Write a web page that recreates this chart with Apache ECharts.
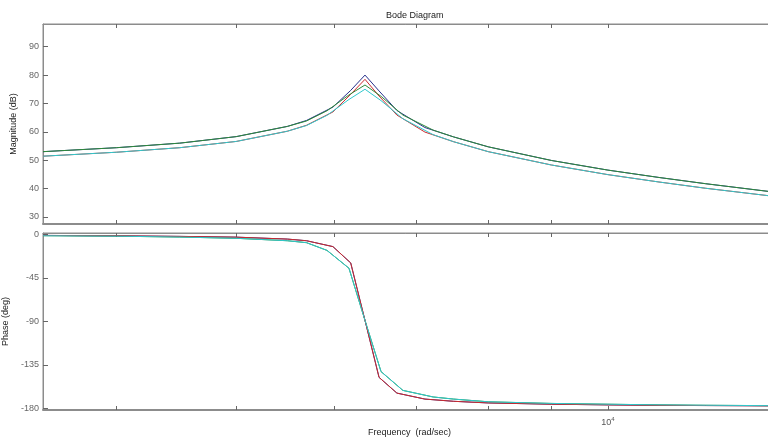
<!DOCTYPE html>
<html>
<head>
<meta charset="utf-8">
<script src="https://cdn.jsdelivr.net/npm/echarts@6/dist/echarts.min.js"></script>
<style>
  * { margin: 0; padding: 0; }
  html, body { background: #fff; }
</style>
</head>
<body>
<!-- container with a fixed size for echarts -->
<div id="main" style="width:768px;height:437px;"></div>
<script>
// frequency grids (rad/sec)
var freqA = [3487, 4000, 4500, 5000, 5500, 5700, 5988, 6190, 6357, 6526, 6747, 7109, 7500, 8000, 9000, 10000, 11000, 12000, 13600];
var freqB = [3487, 4000, 4500, 5000, 5500, 5700, 5922, 6170, 6357, 6550, 6823, 7218, 7500, 8000, 9000, 10000, 11000, 12000, 13600];

// magnitude (dB)
var magBlue  = [53.0, 54.4, 56.0, 58.3, 61.9, 64.0, 68.7, 74.6, 80.0, 74.4, 67.5, 61.5, 58.2, 54.7, 49.9, 46.5, 43.9, 41.7, 38.8];
var magRed   = [51.4, 52.8, 54.4, 56.6, 60.2, 62.3, 67.0, 73.2, 78.5, 72.6, 65.9, 59.9, 56.5, 53.0, 48.3, 44.9, 42.3, 40.1, 37.3];
var magGreen = [53.0, 54.4, 56.0, 58.3, 61.9, 63.8, 67.4, 73.0, 76.5, 72.5, 65.9, 60.6, 58.2, 54.7, 49.9, 46.5, 43.9, 41.7, 38.8];
var magCyan  = [51.4, 52.8, 54.4, 56.6, 60.2, 62.2, 65.8, 71.4, 75.0, 71.0, 64.6, 59.0, 56.5, 53.0, 48.3, 44.9, 42.3, 40.1, 37.3];

// phase (deg)
var phBlue  = [-1.0, -1.4, -2.0, -2.8, -4.8, -6.5, -12.6, -29.5, -89, -148, -164.3, -170.5, -172.8, -174.5, -175.8, -176.5, -177.0, -177.2, -177.5];
var phRed   = [-1.0, -1.4, -2.0, -2.8, -4.8, -6.5, -12.6, -29.5, -89, -148, -164.3, -170.5, -172.8, -174.5, -175.8, -176.5, -177.0, -177.2, -177.5];
var phGreen = [-1.3, -1.8, -2.7, -4.0, -6.5, -8.5, -16.5, -35.0, -89, -142, -161.5, -168.3, -170.5, -173.3, -175.0, -175.8, -176.5, -176.9, -177.3];
var phCyan  = [-1.3, -1.8, -2.7, -4.0, -6.5, -8.5, -16.5, -35.0, -89, -142, -161.5, -168.3, -170.5, -173.3, -175.0, -175.8, -176.5, -176.9, -177.3];

// tick positions
var freqTicks = [4000, 5000, 6000, 7000, 8000, 9000, 10000];
var freqLabels = [10000];
var magTicks = [30, 40, 50, 60, 70, 80, 90];
var phTicks = [0, -45, -90, -135, -180];

var colors = { blue: '#27308c', red: '#cc2a2e', green: '#2f8a3a', cyan: '#30c8cc' };

function pairs(f, v) {
    var out = [];
    for (var i = 0; i < f.length; i++) out.push([f[i], v[i]]);
    return out;
}

function line(name, gi, f, v, color) {
    return {
        name: name, type: 'line', xAxisIndex: gi * 2, yAxisIndex: gi,
        data: pairs(f, v), symbol: 'none', clip: true,
        lineStyle: { color: color, width: 1 }, silent: true
    };
}

function xAx(gi, pos, labels, lineW) {
    return {
        type: 'log', gridIndex: gi, position: pos, min: 3487, max: 13530,
        axisLine: { show: true, onZero: false, lineStyle: { color: '#8c8c8c', width: lineW } },
        axisTick: { show: true, inside: true, length: 4, customValues: freqTicks, lineStyle: { color: '#666' } },
        splitLine: { show: false }, minorTick: { show: false },
        axisLabel: labels ? {
            show: true, customValues: freqLabels, margin: 6,
            formatter: function () { return '{b|10}{s|4}'; },
            rich: {
                b: { fontSize: 9, color: '#555', fontFamily: 'Liberation Sans' },
                s: { fontSize: 6, color: '#555', fontFamily: 'Liberation Sans', padding: [0, 0, 7, 0] }
            }
        } : { show: false }
    };
}

var chart = echarts.init(document.getElementById('main'));
chart.setOption({
    backgroundColor: '#fff',
    animation: false,
    title: {
        text: 'Bode Diagram', left: 386, top: 11, padding: 0,
        textStyle: { fontSize: 9, fontWeight: 'normal', color: '#222', fontFamily: 'Liberation Sans' }
    },
    grid: [
        { left: 43, top: 24, right: -2, height: 200, show: true, borderColor: '#8c8c8c', borderWidth: 1, outerBoundsMode: 'none', containLabel: false },
        { left: 43, top: 233, right: -2, height: 177, show: true, borderColor: '#8c8c8c', borderWidth: 1, outerBoundsMode: 'none', containLabel: false }
    ],
    xAxis: [
        xAx(0, 'bottom', false, 2),
        xAx(0, 'top', false, 1),
        (function () {
            var a = xAx(1, 'bottom', true, 2);
            a.name = 'Frequency  (rad/sec)';
            a.nameLocation = 'middle';
            a.nameGap = 16;
            a.nameTextStyle = { fontSize: 9, color: '#222', fontFamily: 'Liberation Sans', padding: [0, 0, 0, 6] };
            return a;
        })(),
        xAx(1, 'top', false, 1)
    ],
    yAxis: [
        {
            type: 'value', gridIndex: 0, min: 27.5, max: 98,
            name: 'Magnitude (dB)', nameLocation: 'middle', nameGap: 16,
            nameTextStyle: { fontSize: 9, color: '#222', fontFamily: 'Liberation Sans' },
            axisLine: { show: true, onZero: false, lineStyle: { color: '#8c8c8c' } },
            axisTick: { show: true, inside: true, length: 5, customValues: magTicks, lineStyle: { color: '#666' } },
            axisLabel: { customValues: magTicks, margin: 4, fontSize: 9, color: '#666', fontFamily: 'Liberation Sans' },
            splitLine: { show: false }
        },
        {
            type: 'value', gridIndex: 1, min: -181.8, max: 1.5,
            name: 'Phase (deg)', nameLocation: 'middle', nameGap: 23,
            nameTextStyle: { fontSize: 9, color: '#222', fontFamily: 'Liberation Sans' },
            axisLine: { show: true, onZero: false, lineStyle: { color: '#8c8c8c' } },
            axisTick: { show: true, inside: true, length: 5, customValues: phTicks, lineStyle: { color: '#666' } },
            axisLabel: { customValues: phTicks, margin: 4, fontSize: 9, color: '#666', fontFamily: 'Liberation Sans' },
            splitLine: { show: false }
        }
    ],
    series: [
        line('blue', 0, freqA, magBlue, colors.blue),
        line('red', 0, freqA, magRed, colors.red),
        line('green', 0, freqB, magGreen, colors.green),
        line('cyan', 0, freqB, magCyan, colors.cyan),
        line('blue', 1, freqA, phBlue, colors.blue),
        line('green', 1, freqB, phGreen, colors.green),
        line('red', 1, freqA, phRed, colors.red),
        line('cyan', 1, freqB, phCyan, colors.cyan)
    ]
});
</script>
</body>
</html>
